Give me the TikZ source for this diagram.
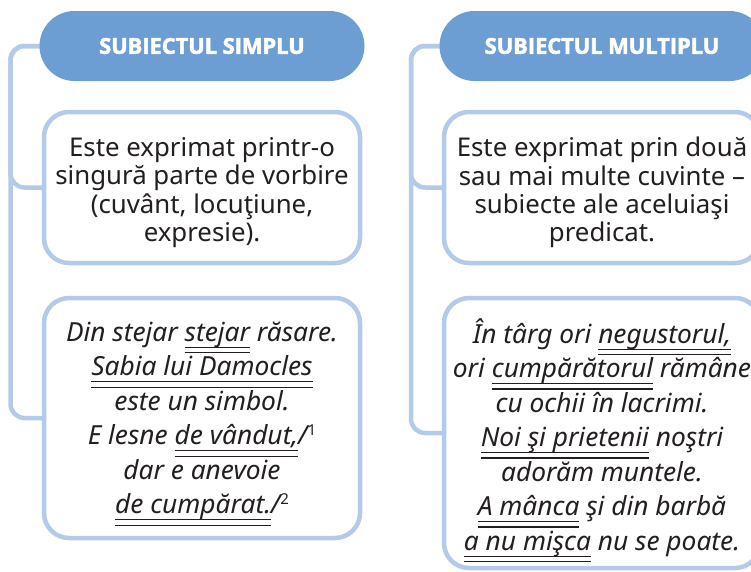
\documentclass[tikz,border=0pt]{standalone}
\usepackage{fontspec}
\setmainfont{Noto Sans}
\newfontfamily\hdrfont[FakeBold=2.4]{Open Sans}
\usetikzlibrary{backgrounds}
\definecolor{hdr}{HTML}{6C9ED4}
\definecolor{lnk}{HTML}{B3CAE9}
\definecolor{txt}{HTML}{231F20}
\newsavebox\dulbox
\newcommand\dul[1]{\sbox\dulbox{#1}\rlap{\smash{\rule[-6.6pt]{\wd\dulbox}{1.1pt}}}\rlap{\smash{\rule[-11.8pt]{\wd\dulbox}{1.1pt}}}\usebox\dulbox}
\newcommand\supnum[1]{\raisebox{9pt}{\upshape\fontsize{15}{15}\selectfont #1}}
\begin{document}
\begin{tikzpicture}[x=1pt,y=-1pt,
  hdrbox/.style={rectangle, rounded corners=35pt, fill=hdr, minimum width=325pt, minimum height=70pt, inner sep=0pt, text=white, font=\hdrfont\bfseries\fontsize{21.8}{24}\selectfont},
  infobox/.style={rectangle, rounded corners=25pt, draw=lnk, line width=4.5pt, fill=white, minimum width=316pt, inner sep=0pt},
  infotext/.style={inner sep=0pt, align=center, text=txt, font=\fontsize{25.8}{28.3}\selectfont},
  extext/.style={infotext, font=\itshape\fontsize{26.3}{34.5}\selectfont},
  conn/.style={draw=lnk, line width=4.5pt, rounded corners=14pt}]
\useasboundingbox (0,0) rectangle (751,571);
\node[hdrbox] (h1) at (202,46) {SUBIECTUL SIMPLU};
\node[hdrbox] (h2) at (602,46) {SUBIECTUL MULTIPLU};
\node[infobox, minimum height=151pt] (b1) at (202,187.5) {};
\node[infobox, minimum height=151pt] (b3) at (602,187.5) {};
\node[infobox, minimum height=240pt] (b2) at (202,418) {};
\node[infobox, minimum height=270pt] (b4) at (602,433) {};
\node[infotext] (t1) at ([yshift=-5pt]b1.center) {Este exprimat printr-o\\singură parte de vorbire\\(cuvânt, locuţiune,\\expresie).};
\node[infotext] (t3) at ([yshift=-5pt]b3.center) {Este exprimat prin două\\sau mai multe cuvinte –\\subiecte ale aceluiaşi\\predicat.};
\node[extext] (t2) at ([yshift=-3pt]b2.center) {Din stejar \dul{stejar} răsare.\\\dul{Sabia lui Damocles}\\este un simbol.\\E lesne \dul{de vândut,}/\supnum{1}\\dar e anevoie\\\dul{de cumpărat.}/\supnum{2}};
\node[extext] (t4) at ([yshift=-4.5pt]b4.center) {În târg ori \dul{negustorul,}\\ori \dul{cumpărătorul} rămâne\\cu ochii în lacrimi.\\\dul{Noi şi prietenii} noştri\\adorăm muntele.\\\dul{A mânca} şi din barbă\\\dul{a nu mişca} nu se poate.};
\coordinate (l1) at (10.5,100);
\coordinate (l2) at (411,100);
\begin{pgfonlayer}{background}
\draw[conn] ([xshift=10pt]h1.west) -| (l1) |- ([xshift=8pt]b1.west);
\draw[conn] ([xshift=10pt]h1.west) -| (l1) |- ([xshift=8pt]b2.west);
\draw[conn] ([xshift=10pt]h2.west) -| (l2) |- ([xshift=8pt]b3.west);
\draw[conn] ([xshift=10pt]h2.west) -| (l2) |- ([xshift=8pt]b4.west);
\end{pgfonlayer}
\end{tikzpicture}
\end{document}
